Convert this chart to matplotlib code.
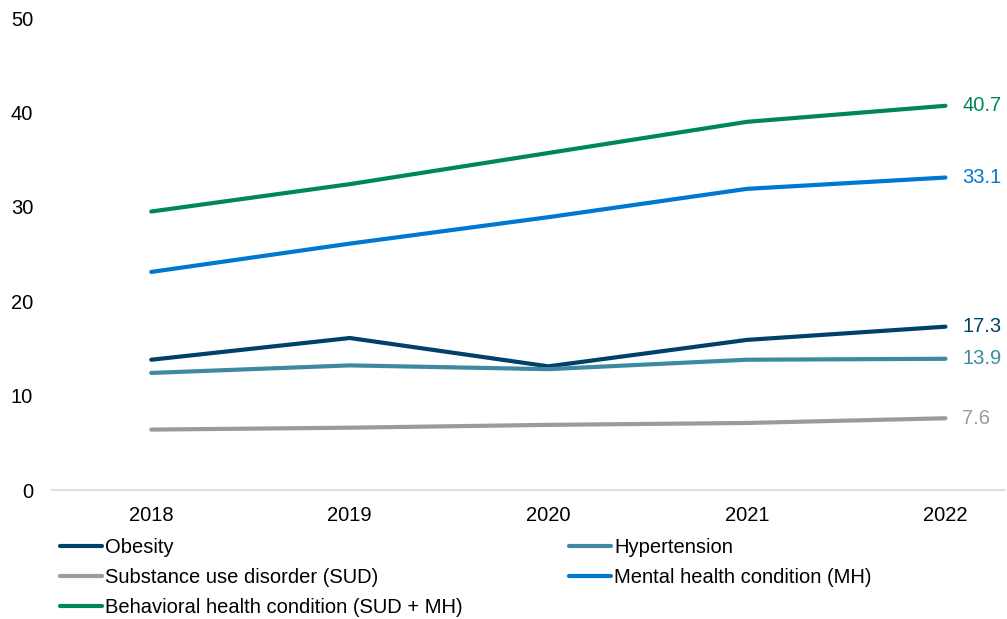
import matplotlib.pyplot as plt
from matplotlib.lines import Line2D

plt.rcParams['font.family'] = ['Liberation Sans', 'DejaVu Sans']

years = ['2018', '2019', '2020', '2021', '2022']

obesity = [13.8, 16.1, 13.1, 15.9, 17.3]
hypertension = [12.4, 13.2, 12.8, 13.8, 13.9]
sud = [6.4, 6.6, 6.9, 7.1, 7.6]
mental = [23.1, 26.1, 28.9, 31.9, 33.1]
behavioral = [29.5, 32.4, 35.7, 39.0, 40.7]

names = ['Obesity', 'Hypertension', 'Substance use disorder (SUD)',
         'Mental health condition (MH)', 'Behavioral health condition (SUD + MH)']
colors = ['#00416a', '#3f88a1', '#9b9b9b', '#0078d2', '#00865f']
series = [obesity, hypertension, sud, mental, behavioral]

FS = 14.5

fig = plt.figure(figsize=(10.07, 6.19), dpi=100)
ax = fig.add_axes([52 / 1007, 1 - 490 / 619, (1005 - 52) / 1007, (490 - 18) / 619])

x = list(range(len(years)))
for name, col, vals in zip(names, colors, series):
    ax.plot(x, vals, color=col, lw=3, solid_capstyle='round',
            solid_joinstyle='round', label=name)
    # value at the last year, to the right of the line end
    ax.annotate(f'{vals[-1]:.1f}', (x[-1], vals[-1]), xytext=(12, 0),
                textcoords='offset points', va='center', ha='left',
                fontsize=FS, color=col)

ax.set_xlim(-0.5, 4.3)
ax.set_ylim(0, 50)
ax.set_yticks(range(0, 51, 10))
ax.set_xticks(x)
ax.set_xticklabels(years)
ax.tick_params(axis='both', length=0, labelsize=FS, colors='black')
ax.tick_params(axis='x', pad=11.5)
ax.tick_params(axis='y', pad=13.5)
for s in ['top', 'right', 'left']:
    ax.spines[s].set_visible(False)
ax.spines['bottom'].set_color('#d9d9d9')
ax.spines['bottom'].set_linewidth(1.2)

# legend filled row by row: two columns
order = [0, 2, 4, 1, 3]
leg_handles = [Line2D([], [], color=colors[i], lw=3, solid_capstyle='round')
               for i in order]
fig.legend(leg_handles, [names[i] for i in order], ncol=2, frameon=False,
           loc='upper left', bbox_to_anchor=(60 / 1007, 1 - 538 / 619),
           fontsize=FS, handlelength=2.08, handletextpad=0.15,
           columnspacing=5.3, labelspacing=0.55, borderaxespad=0, borderpad=0)

fig.savefig('out.png', dpi=100)
